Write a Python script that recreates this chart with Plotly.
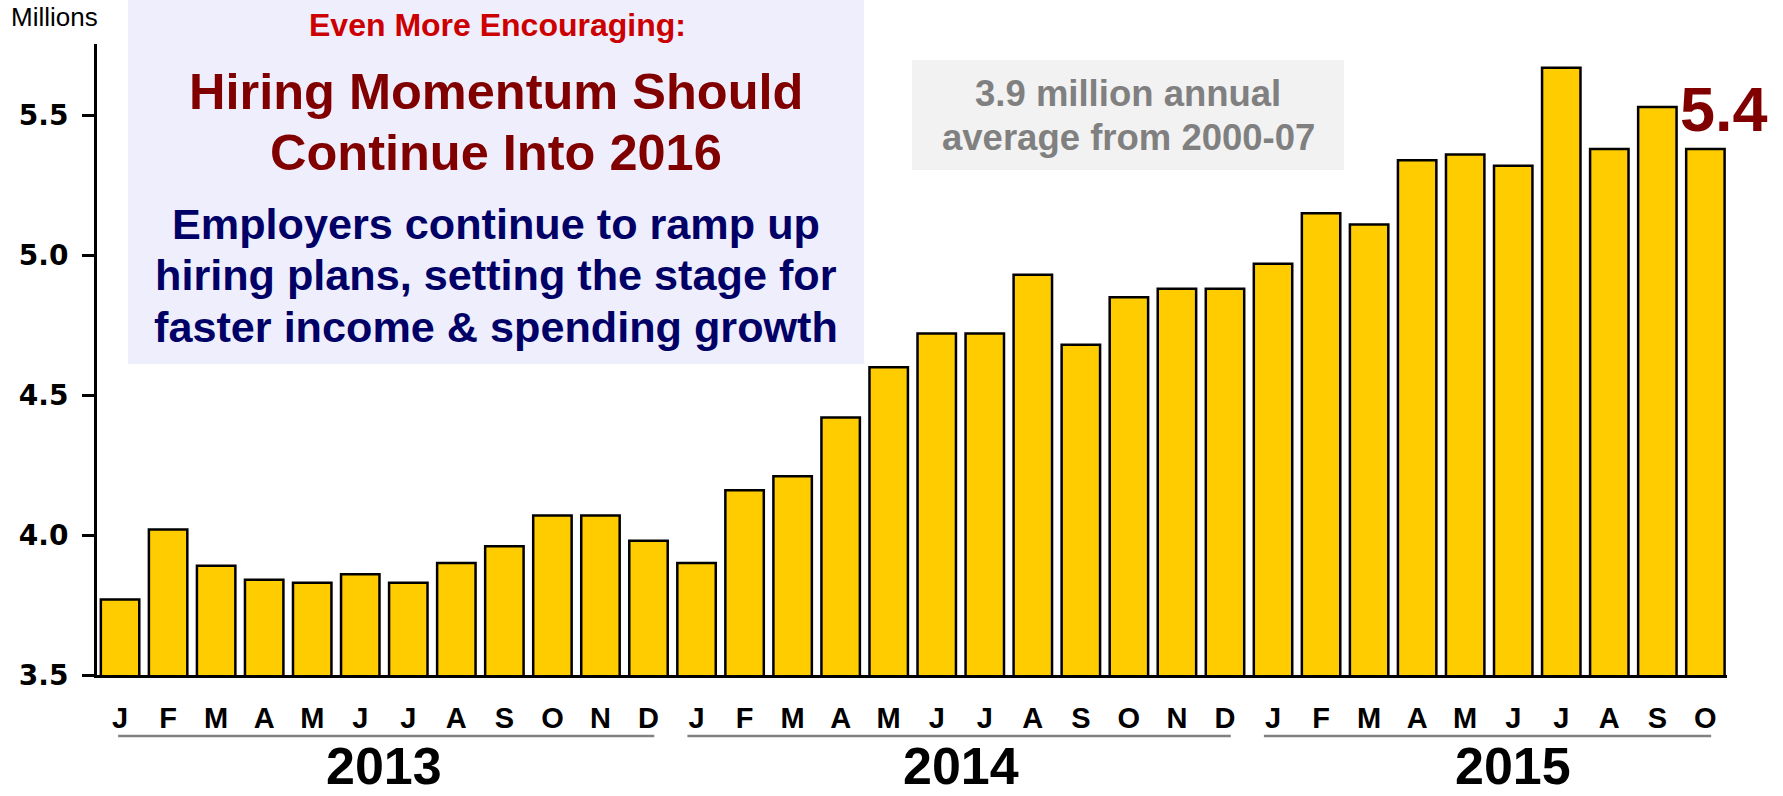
import plotly.graph_objects as go

# Monthly hires, millions (Jan 2013 - Oct 2015)
month_labels = ["J", "F", "M", "A", "M", "J", "J", "A", "S", "O", "N", "D",
                "J", "F", "M", "A", "M", "J", "J", "A", "S", "O", "N", "D",
                "J", "F", "M", "A", "M", "J", "J", "A", "S", "O"]
hires = [3.77, 4.02, 3.89, 3.84, 3.83, 3.86, 3.83, 3.90, 3.96, 4.07, 4.07, 3.98,
         3.90, 4.16, 4.21, 4.42, 4.60, 4.72, 4.72, 4.93, 4.68, 4.85, 4.88, 4.88,
         4.97, 5.15, 5.11, 5.34, 5.36, 5.32, 5.67, 5.38, 5.53, 5.38]
years = ["2013", "2014", "2015"]
months_per_year = [12, 12, 10]
y_ticks = [3.5, 4.0, 4.5, 5.0, 5.5]

W, H = 1783, 796
L, R, T, B = 97, 1727, 44, 675

ARIAL = "Liberation Sans, Arial, Helvetica, sans-serif"
BAR_COLOR = "#FFCC00"


def py2paper(py):
    return (B - py) / (B - T)


def px2paper(px):
    return (px - L) / (R - L)


x_idx = list(range(len(hires)))

fig = go.Figure()
fig.add_trace(go.Bar(
    x=x_idx, y=hires, width=0.8,
    marker=dict(color=BAR_COLOR, line=dict(color="black", width=2.5)),
    hoverinfo="x+y", showlegend=False,
))

shapes = []
annotations = []

# Title panel and benchmark panel
shapes.append(dict(type="rect", xref="paper", yref="paper",
                   x0=px2paper(128), x1=px2paper(864),
                   y0=py2paper(364), y1=py2paper(-2),
                   fillcolor="#EEEEFD", line=dict(width=0), layer="below"))
shapes.append(dict(type="rect", xref="paper", yref="paper",
                   x0=px2paper(912), x1=px2paper(1344),
                   y0=py2paper(170), y1=py2paper(60),
                   fillcolor="#F2F2F2", line=dict(width=0), layer="below"))


def text_line(text, cx, baseline, size, color, bold=True, family=ARIAL):
    annotations.append(dict(
        text=f"<b>{text}</b>" if bold else text,
        xref="paper", yref="paper",
        x=px2paper(cx), y=py2paper(baseline + 0.212 * size),
        xanchor="center", yanchor="bottom", showarrow=False,
        borderpad=0, borderwidth=0,
        font=dict(family=family, size=size, color=color),
    ))


text_line("Even More Encouraging:", 497, 36.7, 32, "#CC0000")
text_line("Hiring Momentum Should", 496, 109.3, 50.5, "#800000")
text_line("Continue Into 2016", 496, 170, 50.5, "#800000")
text_line("Employers continue to ramp up", 496, 239.3, 43.2, "#000066")
text_line("hiring plans, setting the stage for", 496, 290, 43.2, "#000066")
text_line("faster income &amp; spending growth", 496, 341.7, 43.2, "#000066")

text_line("3.9 million annual", 1128, 106, 36.5, "#808080")
text_line("average from 2000-07", 1128, 150, 36.5, "#808080")

text_line("Millions", 54.7, 26, 26, "black", bold=False)

# Latest reading called out above the final bar
annotations.append(dict(
    text=f"<b>{hires[-1]:.1f}</b>", x=x_idx[-1], y=hires[-1],
    xref="x", yref="y", xanchor="center", yanchor="bottom",
    xshift=19, yshift=18 - 0.212 * 63,
    showarrow=False, borderpad=0, borderwidth=0,
    font=dict(family=ARIAL, size=63, color="#800000"),
))

# Year brackets and labels under the month letters
start = 0
for yr, n in zip(years, months_per_year):
    first, last = start, start + n - 1
    shapes.append(dict(type="line", xref="x", yref="paper",
                       x0=max(first - 0.19, -0.04), x1=last + 0.12,
                       y0=py2paper(736), y1=py2paper(736),
                       line=dict(color="#808080", width=2.5)))
    annotations.append(dict(
        text=f"<b>{yr}</b>", xref="x", yref="paper",
        x=first + (5.5 + (n - 1) / 2) / 2,
        y=py2paper(784 + 0.212 * 52),
        xanchor="center", yanchor="bottom", showarrow=False,
        borderpad=0, borderwidth=0,
        font=dict(family=ARIAL, size=52, color="black"),
    ))
    start += n

fig.update_layout(
    width=W, height=H,
    margin=dict(l=L, r=W - R, t=T, b=H - B, pad=0),
    paper_bgcolor="white", plot_bgcolor="white",
    bargap=0.2,
    shapes=shapes, annotations=annotations,
    xaxis=dict(
        range=[-0.48, 33.45], tickmode="array", tickvals=x_idx, ticktext=month_labels,
        showgrid=False, zeroline=False, showline=True, linecolor="black", linewidth=3,
        ticks="", ticklabelstandoff=15,
        tickfont=dict(family=ARIAL, size=29, color="black", weight="bold"),
        fixedrange=True,
    ),
    yaxis=dict(
        range=[3.5, 5.755], tickmode="array", tickvals=y_ticks, tickformat=".1f",
        showgrid=False, zeroline=False, showline=True, linecolor="black", linewidth=3,
        ticks="outside", ticklen=12, tickwidth=2.5, tickcolor="black",
        ticklabelstandoff=8,
        tickfont=dict(family="DejaVu Sans, sans-serif", size=28, color="black", weight="bold"),
        fixedrange=True,
    ),
)

fig.write_html("out.html", config={"displayModeBar": False})
